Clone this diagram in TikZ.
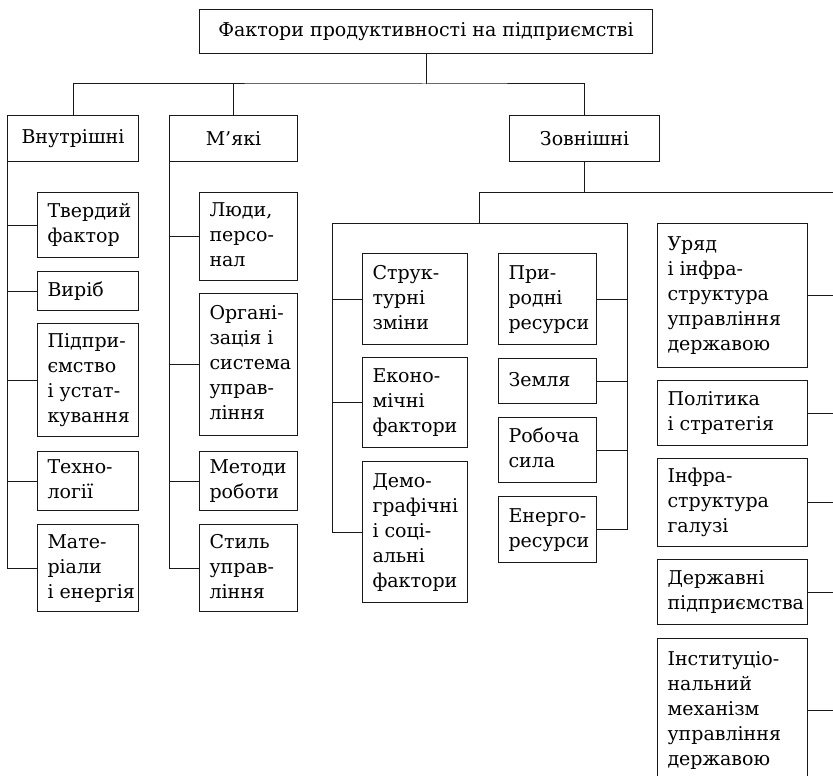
\documentclass[tikz,border=0pt]{standalone}
\usepackage{fontspec}
\setmainfont{DejaVu Serif}
\tikzset{
  ln/.style={line width=1pt, draw=black!90},
  box/.style={draw=black!90, line width=1pt, rectangle, inner xsep=10pt, inner ysep=0pt,
    font=\fontsize{19}{25}\selectfont},
}
% name, x1, y1, x2, y2, text (left aligned)
\newcommand\lbox[6]{\node[box, anchor=north west, minimum width={(#4-#2)*1pt},
  minimum height={(#5-#3)*1pt}] (#1) at (#2,#3)
  {\makebox[\dimexpr #4pt-#2pt-20pt\relax][l]{\begin{tabular}{@{}l@{}}#6\end{tabular}}};}
% name, x1, y1, x2, y2, text (centred)
\newcommand\cbox[6]{\node[box, anchor=north west, minimum width={(#4-#2)*1pt},
  minimum height={(#5-#3)*1pt}] (#1) at (#2,#3) {#6};}
\begin{document}
\begin{tikzpicture}[x=1pt, y=-1pt]
\useasboundingbox (0,0) rectangle (833,776);
\clip (0,0) rectangle (833,776);

% top levels
\cbox{title}{199}{9}{652}{53}{Фактори продуктивності на підприємстві}
\cbox{vn}{7}{115}{138}{161}{Внутрішні}
\cbox{mk}{169}{115}{297}{161}{М’які}
\cbox{zv}{509}{115}{659}{161}{Зовнішні}

% Внутрішні
\lbox{v1}{37}{192}{138}{257}{Твердий\\фактор}
\lbox{v2}{37}{271}{138}{310}{Виріб}
\lbox{v3}{37}{323}{138}{436}{Підпри-\\ємство\\і устат-\\кування}
\lbox{v4}{37}{451}{138}{510}{Техно-\\логії}
\lbox{v5}{37}{524}{138}{611}{Мате-\\ріали\\і енергія}

% М'які
\lbox{m1}{199}{192}{297}{280}{Люди,\\персо-\\нал}
\lbox{m2}{199}{293}{297}{435}{Органі-\\зація і\\система\\управ-\\ління}
\lbox{m3}{199}{451}{297}{510}{Методи\\роботи}
\lbox{m4}{199}{524}{297}{611}{Стиль\\управ-\\ління}

% Зовнішні, left group
\lbox{s1}{362}{253}{467}{344}{Струк-\\турні\\зміни}
\lbox{s2}{362}{357}{467}{447}{Еконо-\\мічні\\фактори}
\lbox{s3}{362}{461}{467}{602}{Демо-\\графічні\\і соці-\\альні\\фактори}
\lbox{r1}{498}{253}{596}{344}{При-\\родні\\ресурси}
\lbox{r2}{498}{358}{596}{403}{Земля}
\lbox{r3}{498}{417}{596}{482}{Робоча\\сила}
\lbox{r4}{498}{496}{596}{562}{Енерго-\\ресурси}

% Зовнішні, right group
\lbox{g1}{657}{223}{807}{367}{Уряд\\і інфра-\\структура\\управління\\державою}
\lbox{g2}{657}{380}{807}{445}{Політика\\і стратегія}
\lbox{g3}{657}{458}{807}{546}{Інфра-\\структура\\галузі}
\lbox{g4}{657}{559}{807}{624}{Державні\\підприємства}
\lbox{g5}{657}{638}{807}{782}{Інституціо-\\нальний\\механізм\\управління\\державою}

% junctions
\coordinate (j0) at (426,84);
\coordinate (j1) at (479,192);
\coordinate (j1r) at (845,192);
\coordinate (j2) at (479,223);
\coordinate (gl) at (332,223);
\coordinate (gr) at (627,223);

% top connectors
\draw[ln] (title.south) -- (j0);
\draw[ln] (vn.north) |- (j0) -| (zv.north);
\draw[ln] (mk.north) -- (mk.north |- j0);

% Внутрішні connectors
\draw[ln] (vn.south west) |- (v5.west);
\foreach \n in {v1,v2,v3,v4} \draw[ln] (\n.west) -- (\n.west -| vn.south west);
% М'які connectors
\draw[ln] (mk.south west) |- (m4.west);
\foreach \n in {m1,m2,m3} \draw[ln] (\n.west) -- (\n.west -| mk.south west);

% Зовнішні connectors
\draw[ln] (zv.south) -- (zv.south |- j1);
\draw[ln] (j1) -- (j1r);
\draw[ln] (j1) -- (j2);
\draw[ln] (s3.west) -| (gl) -- (gr) |- (r4.east);
\foreach \n in {s1,s2} \draw[ln] (\n.west) -- (\n.west -| gl);
\foreach \n in {r1,r2,r3} \draw[ln] (\n.east) -- (\n.east -| gr);
\foreach \n in {g1,g2,g3,g4,g5} \draw[ln] (\n.east) -- (\n.east -| j1r);
\end{tikzpicture}
\end{document}
